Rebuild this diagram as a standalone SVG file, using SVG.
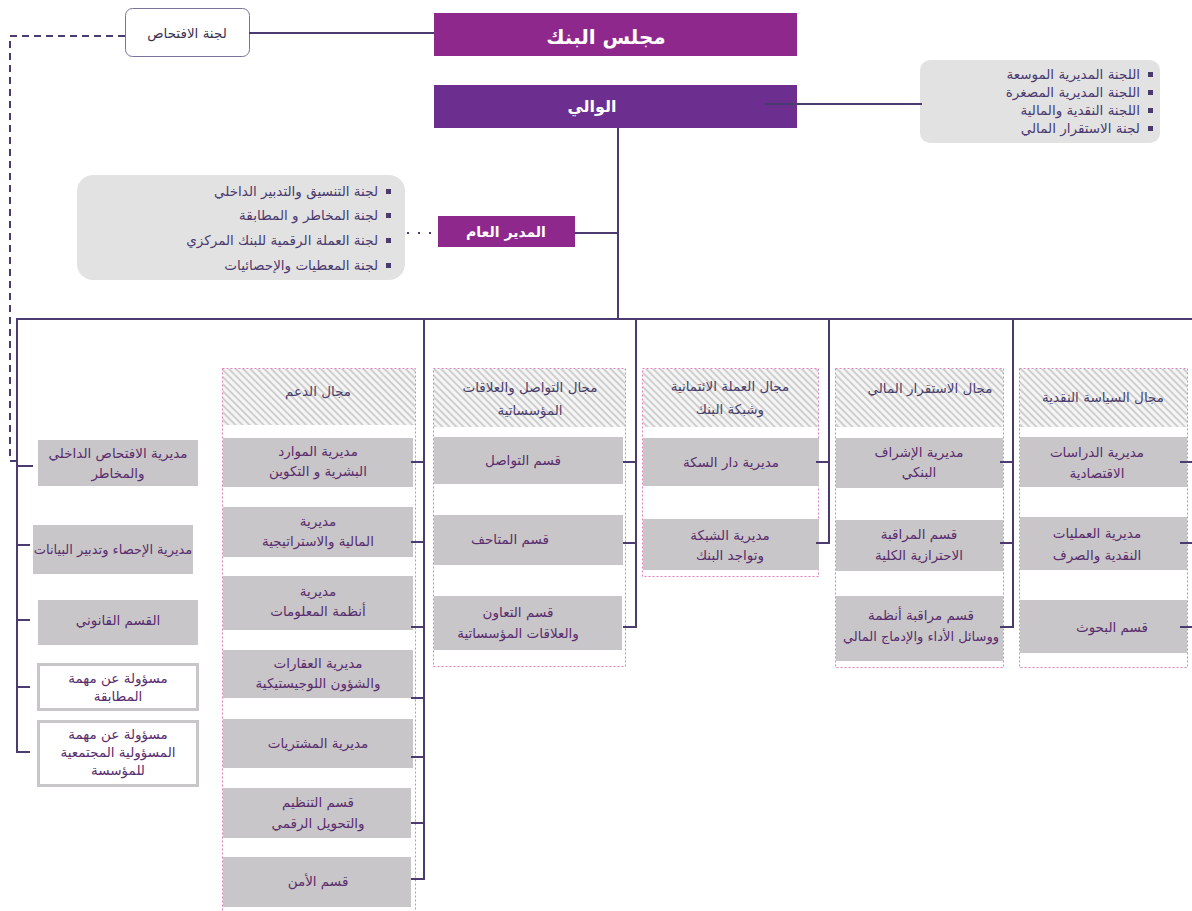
<svg xmlns="http://www.w3.org/2000/svg" width="1192" height="911" viewBox="0 0 1192 911">
<defs>
<pattern id="hatch" width="5" height="5" patternUnits="userSpaceOnUse" patternTransform="rotate(-45)">
<rect width="5" height="5" fill="#f5f5f5"/>
<rect width="2" height="5" fill="#cfcfcf"/>
</pattern>
<style>
.ln{stroke:#4b3b6e;stroke-width:2;fill:none}
.dash{stroke:#4b3b6e;stroke-width:2;fill:none;stroke-dasharray:7 5}
.box{fill:#c8c6c8}
.wbox{fill:#ffffff;stroke:#c8c6c8;stroke-width:3}
.col{fill:#ffffff;stroke:#e07fc0;stroke-width:1;stroke-dasharray:2 2}
.hd{fill:url(#hatch)}
.t{font-family:"DejaVu Sans",sans-serif;font-size:13.5px;fill:#5a2d6e;text-anchor:middle}
.th{font-family:"DejaVu Sans",sans-serif;font-size:13.5px;fill:#4a3f6b;text-anchor:middle}
.tw{font-family:"DejaVu Sans",sans-serif;fill:#ffffff;text-anchor:middle;font-weight:bold}
.tl{font-family:"DejaVu Sans",sans-serif;font-size:13.5px;fill:#4a3a6e;text-anchor:end}
.bul{fill:#4a3a6e}
.cmt{fill:#e3e2e3}
</style>
</defs>
<rect width="1192" height="911" fill="#ffffff"/>

<g id="audit-committee">
<rect x="125.5" y="8.5" width="124" height="48" rx="7" fill="#ffffff" stroke="#7a7399" stroke-width="1"/>
<text class="t" x="187" y="38" style="fill:#3a3355">لجنة الافتحاص</text>
</g>

<g id="board">
<rect x="434" y="13" width="363" height="43" fill="#8e288c"/>
<text class="tw" x="606" y="44" font-size="20">مجلس البنك</text>
</g>

<g id="governor">
<rect x="434" y="85" width="363" height="43" fill="#6c2f8f"/>
<text class="tw" x="592" y="112" font-size="16">الوالي</text>
</g>

<g id="governor-committees">
<rect x="920" y="60" width="240" height="83" rx="10" class="cmt"/>
<rect class="bul" x="1148" y="72" width="5" height="5"/>
<text class="tl" x="1140" y="79">اللجنة المديرية الموسعة</text>
<rect class="bul" x="1148" y="90" width="5" height="5"/>
<text class="tl" x="1140" y="97">اللجنة المديرية المصغرة</text>
<rect class="bul" x="1148" y="108" width="5" height="5"/>
<text class="tl" x="1140" y="115">اللجنة النقدية والمالية</text>
<rect class="bul" x="1148" y="126" width="5" height="5"/>
<text class="tl" x="1140" y="133">لجنة الاستقرار المالي</text>
</g>

<g id="director-general">
<rect x="438" y="216" width="137" height="31" fill="#8e288c"/>
<text class="tw" x="506" y="237" font-size="14">المدير العام</text>
</g>

<g id="dg-committees">
<rect x="77" y="175" width="328" height="105" rx="16" class="cmt"/>
<rect class="bul" x="386" y="189" width="5" height="5"/>
<text class="tl" x="378" y="196">لجنة التنسيق والتدبير الداخلي</text>
<rect class="bul" x="386" y="213" width="5" height="5"/>
<text class="tl" x="378" y="220">لجنة المخاطر و المطابقة</text>
<rect class="bul" x="386" y="238" width="5" height="5"/>
<text class="tl" x="378" y="245">لجنة العملة الرقمية للبنك المركزي</text>
<rect class="bul" x="386" y="263" width="5" height="5"/>
<text class="tl" x="378" y="270">لجنة المعطيات والإحصائيات</text>
</g>

<g id="left-units">
<rect class="box" x="38" y="440" width="160" height="46"/>
<text class="t" x="118" y="458">مديرية الافتحاص الداخلي</text>
<text class="t" x="118" y="478">والمخاطر</text>
<rect class="box" x="33" y="525" width="160" height="49"/>
<text class="t" x="113" y="554" style="font-size:13px">مديرية الإحصاء وتدبير البيانات</text>
<rect class="box" x="38" y="600" width="160" height="45"/>
<text class="t" x="118" y="625">القسم القانوني</text>
<rect class="wbox" x="38.5" y="664.5" width="159" height="45"/>
<text class="t" x="118" y="683">مسؤولة عن مهمة</text>
<text class="t" x="118" y="701">المطابقة</text>
<rect class="wbox" x="38.5" y="721.5" width="159" height="64"/>
<text class="t" x="118" y="739">مسؤولة عن مهمة</text>
<text class="t" x="118" y="757">المسؤولية المجتمعية</text>
<text class="t" x="118" y="775">للمؤسسة</text>
</g>

<g id="support">
<rect class="col" x="222.5" y="368.5" width="193" height="560"/>
<rect class="hd" x="223" y="369" width="192" height="56"/>
<text class="th" x="318" y="396">مجال الدعم</text>
<rect class="box" x="223" y="438" width="190" height="49"/>
<text class="t" x="318" y="456">مديرية الموارد</text>
<text class="t" x="318" y="476">البشرية و التكوين</text>
<rect class="box" x="223" y="507" width="190" height="50"/>
<text class="t" x="318" y="526">مديرية</text>
<text class="t" x="318" y="546">المالية والاستراتيجية</text>
<rect class="box" x="223" y="576" width="190" height="54"/>
<text class="t" x="318" y="596">مديرية</text>
<text class="t" x="318" y="616">أنظمة المعلومات</text>
<rect class="box" x="223" y="650" width="190" height="48"/>
<text class="t" x="318" y="668">مديرية العقارات</text>
<text class="t" x="318" y="688">والشؤون اللوجيستيكية</text>
<rect class="box" x="223" y="719" width="190" height="49"/>
<text class="t" x="318" y="748">مديرية المشتريات</text>
<rect class="box" x="223" y="788" width="188" height="50"/>
<text class="t" x="318" y="807">قسم التنظيم</text>
<text class="t" x="318" y="828">والتحويل الرقمي</text>
<rect class="box" x="223" y="857" width="188" height="50"/>
<text class="t" x="318" y="886">قسم الأمن</text>
</g>

<g id="communication">
<rect class="col" x="433.5" y="368.5" width="192" height="298"/>
<rect class="hd" x="434" y="369" width="191" height="58"/>
<text class="th" x="530" y="392">مجال التواصل والعلاقات</text>
<text class="th" x="530" y="415">المؤسساتية</text>
<rect class="box" x="434" y="437" width="189" height="47"/>
<text class="t" x="523" y="465">قسم التواصل</text>
<rect class="box" x="434" y="515" width="189" height="50"/>
<text class="t" x="510" y="544">قسم المتاحف</text>
<rect class="box" x="434" y="596" width="188" height="54"/>
<text class="t" x="518" y="617">قسم التعاون</text>
<text class="t" x="518" y="638">والعلاقات المؤسساتية</text>
</g>

<g id="currency">
<rect class="col" x="642.5" y="368.5" width="176" height="208"/>
<rect class="hd" x="643" y="369" width="175" height="58"/>
<text class="th" x="730" y="391">مجال العملة الائتمانية</text>
<text class="th" x="730" y="414">وشبكة البنك</text>
<rect class="box" x="643" y="438" width="176" height="48"/>
<text class="t" x="731" y="467">مديرية دار السكة</text>
<rect class="box" x="643" y="519" width="176" height="51"/>
<text class="t" x="730" y="540">مديرية الشبكة</text>
<text class="t" x="730" y="560">وتواجد البنك</text>
</g>

<g id="financial-stability">
<rect class="col" x="835.5" y="368.5" width="168" height="299"/>
<rect class="hd" x="836" y="369" width="167" height="58"/>
<text class="th" x="930" y="393">مجال الاستقرار المالي</text>
<rect class="box" x="836" y="438" width="167" height="50"/>
<text class="t" x="919" y="457">مديرية الإشراف</text>
<text class="t" x="919" y="477">البنكي</text>
<rect class="box" x="836" y="520" width="167" height="51"/>
<text class="t" x="919" y="539">قسم المراقبة</text>
<text class="t" x="919" y="560">الاحترازية الكلية</text>
<rect class="box" x="836" y="596" width="167" height="65"/>
<text class="t" x="921" y="620">قسم مراقبة أنظمة</text>
<text class="t" x="921" y="641" style="font-size:13px">ووسائل الأداء والإدماج المالي</text>
</g>

<g id="monetary-policy">
<rect class="col" x="1019.5" y="368.5" width="168" height="299"/>
<rect class="hd" x="1020" y="369" width="167" height="58"/>
<text class="th" x="1103" y="402">مجال السياسة النقدية</text>
<rect class="box" x="1020" y="437" width="167" height="50"/>
<text class="t" x="1097" y="457">مديرية الدراسات</text>
<text class="t" x="1097" y="478">الاقتصادية</text>
<rect class="box" x="1020" y="517" width="167" height="53"/>
<text class="t" x="1097" y="538">مديرية العمليات</text>
<text class="t" x="1097" y="560">النقدية والصرف</text>
<rect class="box" x="1020" y="600" width="167" height="53"/>
<text class="t" x="1112" y="632">قسم البحوث</text>
</g>

<g id="connectors">
<line class="ln" x1="249" y1="33" x2="434" y2="33"/>
<polyline class="dash" points="125,36 10,36 10,461 17,461"/>
<line class="ln" x1="765" y1="104" x2="922" y2="104"/>
<line class="ln" x1="618" y1="128" x2="618" y2="319"/>
<line class="ln" x1="575" y1="233" x2="618" y2="233"/>
<line x1="407" y1="233" x2="432" y2="233" stroke="#4b3b6e" stroke-width="2" stroke-dasharray="2 9"/>
<line class="ln" x1="16" y1="319" x2="1192" y2="319"/>
<polyline class="ln" points="17,319 17,752 30,752"/>
<line class="ln" x1="17" y1="466" x2="33" y2="466"/>
<line class="ln" x1="17" y1="545" x2="30" y2="545"/>
<line class="ln" x1="17" y1="620" x2="30" y2="620"/>
<line class="ln" x1="17" y1="687" x2="30" y2="687"/>
<polyline class="ln" points="424,319 424,879 411,879"/>
<line class="ln" x1="411" y1="462" x2="424" y2="462"/>
<line class="ln" x1="411" y1="542" x2="424" y2="542"/>
<line class="ln" x1="411" y1="627" x2="424" y2="627"/>
<line class="ln" x1="411" y1="698" x2="424" y2="698"/>
<line class="ln" x1="411" y1="757" x2="424" y2="757"/>
<line class="ln" x1="411" y1="823" x2="424" y2="823"/>
<polyline class="ln" points="636,319 636,627 623,627"/>
<line class="ln" x1="623" y1="462" x2="636" y2="462"/>
<line class="ln" x1="623" y1="543" x2="636" y2="543"/>
<polyline class="ln" points="829,319 829,543 816,543"/>
<line class="ln" x1="816" y1="462" x2="829" y2="462"/>
<polyline class="ln" points="1013,319 1013,627 1000,627"/>
<line class="ln" x1="1000" y1="462" x2="1013" y2="462"/>
<line class="ln" x1="1000" y1="543" x2="1013" y2="543"/>
<line class="ln" x1="1180" y1="462" x2="1192" y2="462"/>
<line class="ln" x1="1180" y1="543" x2="1192" y2="543"/>
<line class="ln" x1="1180" y1="627" x2="1192" y2="627"/>
</g>
</svg>
